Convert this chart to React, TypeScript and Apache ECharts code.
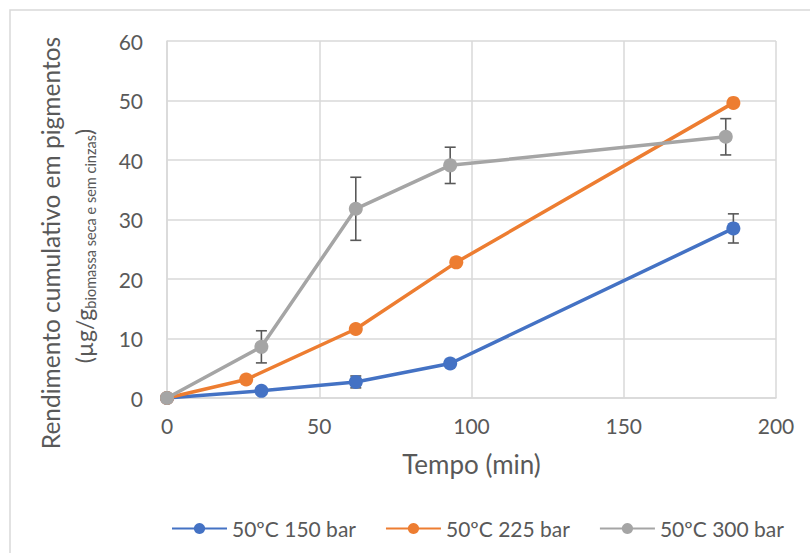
import React, { useEffect, useRef } from "react";
import * as echarts from "echarts";

const xTicks = [0, 50, 100, 150, 200];
const yTicks = [0, 10, 20, 30, 40, 50, 60];

const seriesNames = ["50ºC 150 bar", "50ºC 225 bar", "50ºC 300 bar"];
const seriesColors = ["#4472C4", "#ED7D31", "#A5A5A5"];

const time150 = [0, 31, 62, 93, 186];
const yield150 = [0, 1.2, 2.7, 5.8, 28.5];
const err150 = [0, 0, 1.0, 0, 2.45];

const time225 = [0, 26, 62, 95, 186];
const yield225 = [0, 3.1, 11.6, 22.8, 49.6];
const err225 = [0, 0, 0, 0, 0];

const time300 = [0, 31, 62, 93, 183.5];
const yield300 = [0, 8.6, 31.8, 39.1, 43.9];
const err300 = [0, 2.7, 5.3, 3.05, 3.05];

const FONT = "Lato, 'Open Sans', sans-serif";
const TXT = "#595959";
const GRID = "#d9d9d9";

export default function App() {
  const ref = useRef<HTMLDivElement>(null);
  useEffect(() => {
    if (!ref.current) return;
    const chart = echarts.init(ref.current, undefined, { renderer: "svg" });
    const times = [time150, time225, time300];
    const yields = [yield150, yield225, yield300];
    const errs = [err150, err225, err300];

    const lineSeries = seriesNames.map((name, i) => ({
      name,
      type: "line",
      data: times[i].map((t, k) => [t, yields[i][k]]),
      symbol: "circle",
      symbolSize: 14,
      showSymbol: true,
      lineStyle: { width: 3.5, color: seriesColors[i] },
      itemStyle: { color: seriesColors[i] },
      z: 3 + i,
      emphasis: { disabled: true },
    }));

    const errData: number[][] = [];
    errs.forEach((e, i) => {
      e.forEach((v, k) => {
        if (v > 0) errData.push([times[i][k], yields[i][k] - v, yields[i][k] + v]);
      });
    });

    const errSeries = {
      type: "custom",
      name: "err",
      z: 2,
      data: errData,
      renderItem: (_params: any, api: any) => {
        const x = api.value(0);
        const lo = api.coord([x, api.value(1)]);
        const hi = api.coord([x, api.value(2)]);
        const w = 5.5;
        const style = { stroke: "#595959", lineWidth: 1.6 };
        return {
          type: "group",
          children: [
            { type: "line", shape: { x1: lo[0], y1: lo[1], x2: hi[0], y2: hi[1] }, style },
            { type: "line", shape: { x1: lo[0] - w, y1: lo[1], x2: lo[0] + w, y2: lo[1] }, style },
            { type: "line", shape: { x1: hi[0] - w, y1: hi[1], x2: hi[0] + w, y2: hi[1] }, style },
          ],
        };
      },
    };

    chart.setOption({
      animation: false,
      backgroundColor: "#ffffff",
      textStyle: { fontFamily: FONT },
      grid: { left: 167, right: 34, top: 41, bottom: 155 },
      xAxis: {
        type: "value",
        min: xTicks[0],
        max: xTicks[xTicks.length - 1],
        interval: 50,
        name: "Tempo (min)",
        nameLocation: "middle",
        nameGap: 53,
        nameTextStyle: { fontSize: 26, color: TXT, fontFamily: FONT },
        axisLine: { lineStyle: { color: GRID, width: 1.5 } },
        axisTick: { show: false },
        splitLine: { show: true, lineStyle: { color: GRID, width: 1.5 } },
        axisLabel: { fontSize: 21, color: TXT, margin: 17, fontFamily: FONT },
      },
      yAxis: {
        type: "value",
        min: yTicks[0],
        max: yTicks[yTicks.length - 1],
        interval: 10,
        axisLine: { show: true, lineStyle: { color: GRID, width: 1.5 } },
        axisTick: { show: false },
        splitLine: { show: true, lineStyle: { color: GRID, width: 1.5 } },
        axisLabel: { fontSize: 21, color: TXT, margin: 24, fontFamily: FONT },
      },
      legend: {
        data: seriesNames,
        left: 166,
        top: 513,
        itemWidth: 55,
        itemHeight: 14,
        itemGap: 29,
        textStyle: { fontSize: 21, color: TXT, fontFamily: FONT },
      },
      graphic: [
        {
          type: "rect",
          shape: { x: 10, y: 10, width: 820, height: 580 },
          style: { fill: "none", stroke: GRID, lineWidth: 1.5 },
          silent: true,
        },
        {
          type: "text",
          x: 50,
          y: 243,
          rotation: Math.PI / 2,
          style: {
            text: "Rendimento cumulativo em pigmentos",
            fontSize: 24.5,
            fontFamily: FONT,
            fill: TXT,
            align: "center",
            verticalAlign: "middle",
          },
        },
        {
          type: "text",
          x: 84,
          y: 246,
          rotation: Math.PI / 2,
          style: {
            text: "{m|(µg/g}{s|biomassa seca e sem cinzas}{m|)}",
            fontFamily: FONT,
            fill: TXT,
            align: "center",
            verticalAlign: "middle",
            rich: {
              m: { fontSize: 23, fontFamily: FONT, fill: TXT, lineHeight: 28 },
              s: { fontSize: 14.5, fontFamily: FONT, fill: TXT, lineHeight: 14, verticalAlign: "bottom" },
            },
          },
        },
      ],
      series: [errSeries, ...lineSeries],
    });
    return () => chart.dispose();
  }, []);
  return (
    <div
      ref={ref}
      style={{ position: "absolute", left: 0, top: 0, width: 810, height: 553 }}
    />
  );
}
